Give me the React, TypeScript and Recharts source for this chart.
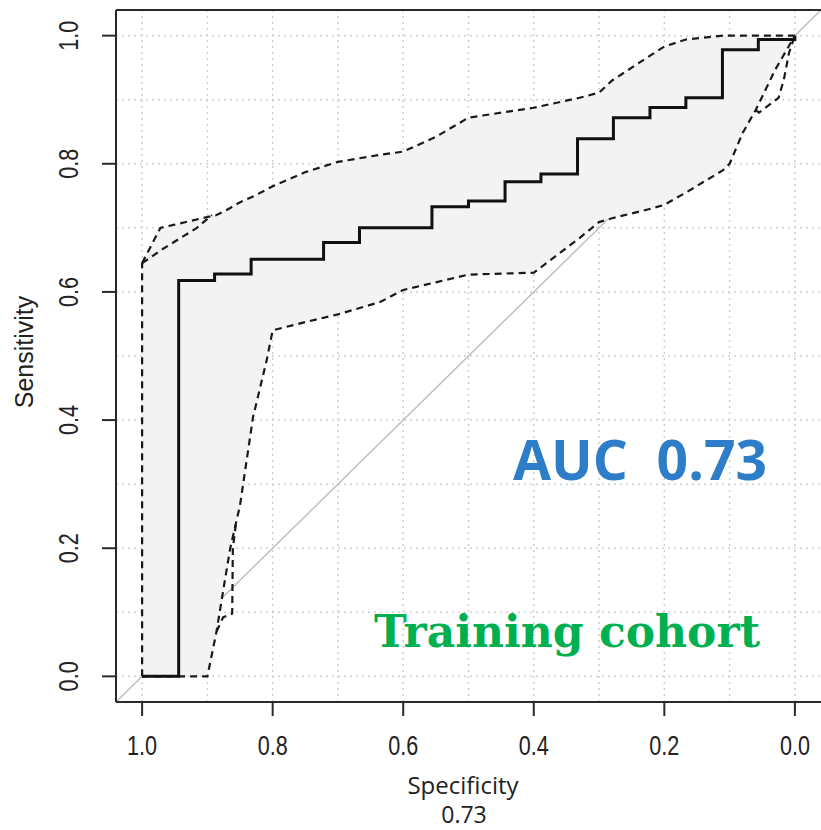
import { ComposedChart, Line, Area, XAxis, YAxis, CartesianGrid, ReferenceLine } from "recharts";

// empirical ROC curve (step points: specificity, sensitivity)
const rocSpec = [1.0, 0.944, 0.889, 0.833, 0.722, 0.667, 0.556, 0.5, 0.444, 0.389, 0.333, 0.278, 0.222, 0.167, 0.111, 0.056, 0.0];
const rocSens = [0.0, 0.618, 0.628, 0.651, 0.677, 0.7, 0.733, 0.742, 0.772, 0.784, 0.839, 0.872, 0.888, 0.903, 0.978, 0.994, 1.0];

// confidence band of sensitivity
const bandSpec = [1.0, 0.972, 0.95, 0.9, 0.886, 0.874, 0.865, 0.85, 0.83, 0.809, 0.8, 0.75, 0.7, 0.636, 0.6, 0.55, 0.5, 0.4, 0.33, 0.3, 0.28, 0.22, 0.2, 0.167, 0.11, 0.1, 0.08, 0.06, 0.03, 0.0];
const bandUpper = [0.645, 0.7, 0.705, 0.717, 0.72, 0.726, 0.731, 0.74, 0.749, 0.76, 0.765, 0.787, 0.803, 0.814, 0.819, 0.842, 0.872, 0.8875, 0.903, 0.911, 0.93, 0.97, 0.983, 0.994, 1.0, 1.0, 1.0, 1.0, 1.0, 1.0];
const bandLower = [0.0, 0.0, 0.0, 0.0, 0.07, 0.145, 0.2, 0.267, 0.405, 0.494, 0.54, 0.553, 0.565, 0.584, 0.603, 0.615, 0.627, 0.63, 0.684, 0.709, 0.715, 0.73, 0.736, 0.755, 0.79, 0.8, 0.848, 0.884, 0.947, 1.0];

// second outline pieces of the band
const innerTopSpec = [1.0, 0.988, 0.97, 0.916, 0.893];
const innerTopSens = [0.645, 0.653, 0.666, 0.7, 0.72];
const innerLeftSpec = [0.886, 0.876, 0.862, 0.861, 0.856];
const innerLeftSens = [0.07, 0.092, 0.098, 0.2, 0.24];
const innerRightSpec = [0.06, 0.055, 0.025, 0.017, 0.009, 0.0];
const innerRightSens = [0.884, 0.88, 0.903, 0.931, 0.973, 1.0];

// chance diagonal, across the whole plot region
const chanceSpec = [1.04, -0.04];
const chanceSens = [-0.04, 1.04];

const axisTicks = [0, 0.2, 0.4, 0.6, 0.8, 1.0];
const gridValues = [0, 0.1, 0.2, 0.3, 0.4, 0.5, 0.6, 0.7, 0.8, 0.9, 1.0];

const pairs = (xs: number[], ys: number[]) => xs.map((s, i) => ({ spec: s, sens: ys[i] }));

const rocData = pairs(rocSpec, rocSens);
const bandData = bandSpec.map((s, i) => ({
  spec: s,
  lower: bandLower[i],
  upper: bandUpper[i],
  range: [bandLower[i], bandUpper[i]],
}));
const innerTop = pairs(innerTopSpec, innerTopSens);
const innerLeft = pairs(innerLeftSpec, innerLeftSens);
const innerRight = pairs(innerRightSpec, innerRightSens);
const chanceData = pairs(chanceSpec, chanceSens);

const ink = "#1a1a1a";
const dash = "7 5";
const tickFont = "'Liberation Sans', Arial, sans-serif";

const XTick = (props: any) => {
  const { x, payload } = props;
  return (
    <text
      transform={`translate(${x},755) scale(0.8,1)`}
      textAnchor="middle"
      fontFamily={tickFont}
      fontSize={27}
      fill="#222"
    >
      {payload.value.toFixed(1)}
    </text>
  );
};

const YTick = (props: any) => {
  const { y, payload } = props;
  return (
    <text
      transform={`translate(78,${y}) rotate(-90) scale(0.8,1)`}
      textAnchor="middle"
      fontFamily={tickFont}
      fontSize={27}
      fill="#222"
    >
      {payload.value.toFixed(1)}
    </text>
  );
};

export default function App() {
  return (
    <div style={{ position: "absolute", left: 0, top: 0, width: 821, height: 830, background: "#fff", overflow: "hidden" }}>
      <ComposedChart width={821} height={830} margin={{ top: 10, right: 0, bottom: 0, left: 0 }}>
        <CartesianGrid
          horizontalValues={gridValues}
          verticalValues={gridValues}
          stroke="#cfcfcf"
          strokeWidth={1.5}
          strokeDasharray="2 4"
        />
        <XAxis
          type="number"
          dataKey="spec"
          domain={[-0.04, 1.04]}
          reversed
          allowDataOverflow
          ticks={axisTicks}
          interval={0}
          height={128}
          tickSize={14}
          tick={<XTick />}
          axisLine={{ stroke: "#2a2a2a", strokeWidth: 2 }}
          tickLine={{ stroke: "#2a2a2a", strokeWidth: 2 }}
        />
        <YAxis
          type="number"
          domain={[-0.04, 1.04]}
          allowDataOverflow
          ticks={axisTicks}
          interval={0}
          width={116}
          tickSize={14}
          tick={<YTick />}
          axisLine={{ stroke: "#2a2a2a", strokeWidth: 2 }}
          tickLine={{ stroke: "#2a2a2a", strokeWidth: 2 }}
        />
        <Area
          data={chanceData}
          dataKey="sens"
          type="linear"
          fill="none"
          stroke="#bdbdbd"
          strokeWidth={1.4}
          isAnimationActive={false}
        />
        <Area
          data={bandData}
          dataKey="range"
          type="linear"
          fill="#f3f3f3"
          fillOpacity={1}
          stroke="none"
          isAnimationActive={false}
        />
        <ReferenceLine
          segment={[{ x: bandSpec[0], y: bandLower[0] }, { x: bandSpec[0], y: bandUpper[0] }]}
          stroke={ink}
          strokeWidth={2.2}
          strokeDasharray={dash}
        />
        <Line data={bandData} dataKey="upper" type="linear" stroke={ink} strokeWidth={2.2} strokeDasharray={dash} dot={false} isAnimationActive={false} />
        <Line data={bandData} dataKey="lower" type="linear" stroke={ink} strokeWidth={2.2} strokeDasharray={dash} dot={false} isAnimationActive={false} />
        <Line data={innerTop} dataKey="sens" type="linear" stroke={ink} strokeWidth={2.2} strokeDasharray={dash} dot={false} isAnimationActive={false} />
        <Line data={innerLeft} dataKey="sens" type="linear" stroke={ink} strokeWidth={2.2} strokeDasharray={dash} dot={false} isAnimationActive={false} />
        <Line data={innerRight} dataKey="sens" type="linear" stroke={ink} strokeWidth={2.2} strokeDasharray={dash} dot={false} isAnimationActive={false} />
        <Line data={rocData} dataKey="sens" type="stepAfter" stroke="#111" strokeWidth={3} dot={false} isAnimationActive={false} />
        <ReferenceLine y={1.04} stroke="#2a2a2a" strokeWidth={2} />
      </ComposedChart>
      <svg width={821} height={830} style={{ position: "absolute", left: 0, top: 0, pointerEvents: "none" }}>
        <text
          transform="translate(33,352) rotate(-90)"
          textAnchor="middle"
          fontFamily={tickFont}
          fontSize={25}
          fill="#222"
        >
          Sensitivity
        </text>
        <text x={463} y={794} textAnchor="middle" fontFamily="'Open Sans', 'Noto Sans', sans-serif" fontSize={24} fill="#222">
          Specificity
        </text>
        <text x={464} y={823} textAnchor="middle" fontFamily="'Open Sans', 'Noto Sans', sans-serif" fontSize={23} fill="#222">
          0.73
        </text>
        <text
          x={513}
          y={480}
          fontFamily="'Open Sans', 'Noto Sans', sans-serif"
          fontWeight={700}
          fontSize={56}
          fill="#2e7dc8"
          textLength={254}
          lengthAdjust="spacingAndGlyphs"
          style={{ whiteSpace: "pre" }}
        >
          AUC  0.73
        </text>
        <text
          x={374}
          y={647}
          fontFamily="'DejaVu Serif', 'Liberation Serif', serif"
          fontWeight={700}
          fontSize={44}
          fill="#00b050"
          textLength={386}
          lengthAdjust="spacingAndGlyphs"
        >
          Training cohort
        </text>
      </svg>
    </div>
  );
}
